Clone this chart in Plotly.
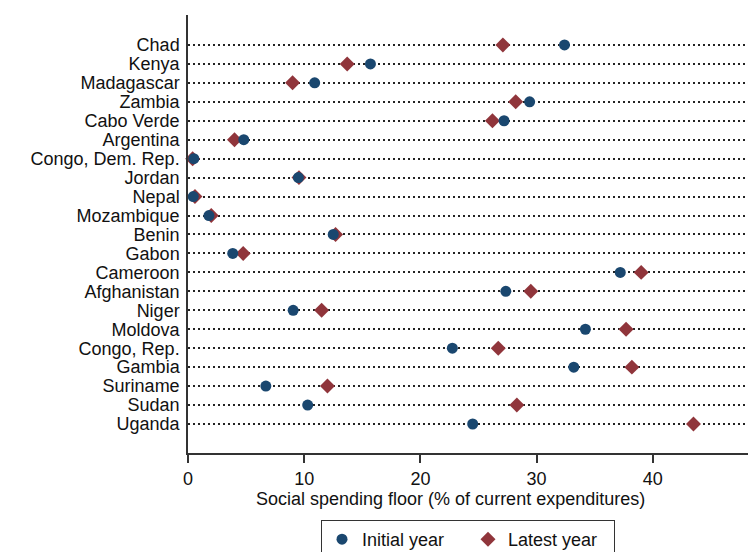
import plotly.graph_objects as go

countries = ["Chad", "Kenya", "Madagascar", "Zambia", "Cabo Verde", "Argentina",
             "Congo, Dem. Rep.", "Jordan", "Nepal", "Mozambique", "Benin", "Gabon",
             "Cameroon", "Afghanistan", "Niger", "Moldova", "Congo, Rep.", "Gambia",
             "Suriname", "Sudan", "Uganda"]
initial_year = [32.4, 15.7, 10.9, 29.4, 27.2, 4.8, 0.5, 9.5, 0.45, 1.8, 12.5, 3.85,
                37.2, 27.35, 9.05, 34.2, 22.75, 33.2, 6.7, 10.3, 24.5]
latest_year = [27.1, 13.7, 9.0, 28.2, 26.2, 4.0, 0.4, 9.55, 0.6, 2.0, 12.7, 4.75,
               39.0, 29.5, 11.5, 37.7, 26.7, 38.2, 12.0, 28.3, 43.5]
x_ticks = [0, 10, 20, 30, 40]

NAVY = "#1a476f"
MAROON = "#90353b"
FONT = "Liberation Sans, Arial, sans-serif"
FS = 18

fig = go.Figure()
fig.add_trace(go.Scatter(
    x=latest_year, y=countries, mode="markers", name="Latest year",
    marker=dict(symbol="diamond", size=11.5, color=MAROON), legendrank=2,
    cliponaxis=False))
fig.add_trace(go.Scatter(
    x=initial_year, y=countries, mode="markers", name="Initial year",
    marker=dict(symbol="circle", size=11, color=NAVY), legendrank=1,
    cliponaxis=False))

# the page body has an 8px margin; lay the figure out in page coordinates minus 8
OFF = 8
W, H = 756 - OFF, 552 - OFF
L, T = 188 - OFF, 15 - OFF
B = H - (453 - OFF)
R = 0
pw, ph = W - L - R, H - T - B


def py(screen_y):
    return (T + ph - (screen_y - OFF)) / ph


def px(screen_x):
    return (screen_x - OFF - L) / pw


fig.update_layout(
    width=W, height=H,
    margin=dict(l=L, r=R, t=T, b=B, pad=0, autoexpand=False),
    paper_bgcolor="white", plot_bgcolor="white",
    font=dict(family=FONT, size=FS, color="#111111"),
    showlegend=True,
    legend=dict(orientation="h", x=px(321), xanchor="left",
                y=py(520), yanchor="top",
                bordercolor="#333333", borderwidth=1, bgcolor="white",
                font=dict(family=FONT, size=FS, color="#111111"),
                traceorder="normal", entrywidth=101, itemwidth=30),
    xaxis=dict(range=[0, pw / 11.62], tickmode="array", tickvals=x_ticks,
               showgrid=False, zeroline=False, showline=True,
               linecolor="#333333", linewidth=1.5, ticks="outside",
               ticklen=8, tickwidth=1.5, tickcolor="#333333",
               ticklabelstandoff=1, automargin=False,
               tickfont=dict(family=FONT, size=FS, color="#111111")),
    yaxis=dict(categoryorder="array", categoryarray=countries[::-1],
               tickmode="array", tickvals=countries,
               range=[-1.53, 21.58], showgrid=True, gridcolor="#222222",
               gridwidth=1.5, griddash="1.5px,3.5px", zeroline=False,
               showline=True, linecolor="#333333", linewidth=1.5, ticks="",
               ticklabelstandoff=3, automargin=False,
               tickfont=dict(family=FONT, size=FS, color="#111111")),
    annotations=[dict(text="Social spending floor (% of current expenditures)",
                      xref="paper", yref="paper", x=px(450),
                      y=py(499), xanchor="center", yanchor="middle",
                      showarrow=False,
                      font=dict(family=FONT, size=FS, color="#111111"))],
)

fig.write_html("out.html")
